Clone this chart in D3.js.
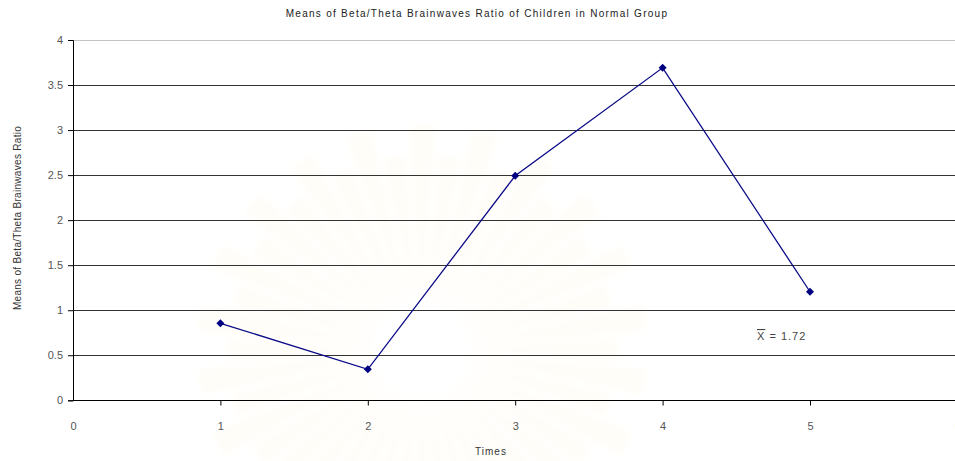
<!DOCTYPE html>
<html>
<head>
<meta charset="utf-8">
<script src="https://cdn.jsdelivr.net/npm/d3@7"></script>
<style>
  html, body { margin: 0; padding: 0; background: #fff; }
  svg { display: block; font-family: "Liberation Sans", Arial, sans-serif; }
</style>
</head>
<body>
<svg id="chart" width="955" height="461"></svg>
<script>
// Session number and mean beta/theta ratio
const times = [1, 2, 3, 4, 5];
const ratios = [0.855, 0.344, 2.493, 3.691, 1.205];
const xTicks = [0, 1, 2, 3, 4, 5, 6];
const yTicks = [0, 0.5, 1, 1.5, 2, 2.5, 3, 3.5, 4];
const meanLabel = "1.72";

const svg = d3.select("#chart");
const W = 955, H = 461;
const plotLeft = 73, plotRight = 957.4, plotTop = 40, plotBottom = 400.3;

const x = d3.scaleLinear().domain([0, 6]).range([plotLeft, plotRight]);
const y = d3.scaleLinear().domain([0, 4]).range([plotBottom, plotTop]);

// Faint sunburst emblem in the page background
const defs = svg.append("defs");
const grad = defs.append("radialGradient").attr("id", "rayFill")
  .attr("gradientUnits", "userSpaceOnUse").attr("cx", 422).attr("cy", 350).attr("r", 230);
grad.append("stop").attr("offset", "0.2").attr("stop-color", "#faf4dc");
grad.append("stop").attr("offset", "0.75").attr("stop-color", "#fcf9ec");
grad.append("stop").attr("offset", "1").attr("stop-color", "#fffdf8");
defs.append("filter").attr("id", "soft").append("feGaussianBlur").attr("stdDeviation", 3);

const emblem = svg.append("g").attr("transform", "translate(422,350)").attr("filter", "url(#soft)");
const nRays = 44;
emblem.selectAll("path")
  .data(d3.range(nRays))
  .join("path")
  .attr("d", i => {
    const a = (i / nRays) * 2 * Math.PI;
    const half = Math.PI / nRays * 0.8;
    const r0 = 48, r1 = (i % 2 === 0) ? 225 : 195;
    const p = (r, t) => [r * Math.sin(t), -r * Math.cos(t)];
    const [x0, y0] = p(r0, a - half * 0.4), [x1, y1] = p(r1, a - half);
    const [x2, y2] = p(r1, a + half), [x3, y3] = p(r0, a + half * 0.4);
    return `M${x0},${y0}L${x1},${y1}L${x2},${y2}L${x3},${y3}Z`;
  })
  .attr("fill", "url(#rayFill)");

// Title
svg.append("text")
  .attr("x", 477).attr("y", 17)
  .attr("text-anchor", "middle")
  .attr("font-size", 10)
  .attr("letter-spacing", 1.28)
  .attr("fill", "#222")
  .text("Means of Beta/Theta Brainwaves Ratio of Children in Normal Group");

// Horizontal gridlines
svg.append("g").selectAll("line")
  .data(yTicks.filter(d => d > 0))
  .join("line")
  .attr("x1", plotLeft).attr("x2", W)
  .attr("y1", d => Math.round(y(d)) + 0.5).attr("y2", d => Math.round(y(d)) + 0.5)
  .attr("stroke", d => d === 4 ? "#c4c4c4" : "#333")
  .attr("stroke-width", 1);

// Y axis
const yAxis = svg.append("g")
  .attr("transform", `translate(${plotLeft},0)`)
  .call(d3.axisLeft(y).tickValues(yTicks).tickSize(5).tickPadding(5).tickFormat(d3.format("")));
yAxis.select(".domain").attr("stroke", "#000");
yAxis.selectAll(".tick line").attr("stroke", "#000");
yAxis.selectAll("text").attr("font-size", 11).attr("fill", "#555").attr("font-family", "Liberation Sans, Arial, sans-serif");

// X axis
const xAxis = svg.append("g")
  .attr("transform", `translate(0,${Math.round(plotBottom) + 0.5})`)
  .call(d3.axisBottom(x).tickValues(xTicks).tickSize(5).tickPadding(17).tickFormat(d3.format("d")));
xAxis.select(".domain").attr("stroke", "#000").attr("d", `M${plotLeft},0H${W}`);
xAxis.selectAll(".tick line").attr("stroke", "#000").attr("opacity", d => (d === 0 ? 0 : 1));
xAxis.selectAll("text").attr("font-size", 11).attr("fill", "#555").attr("font-family", "Liberation Sans, Arial, sans-serif");

// Axis titles
svg.append("text")
  .attr("x", 491).attr("y", 455)
  .attr("text-anchor", "middle")
  .attr("font-size", 10)
  .attr("letter-spacing", 1)
  .attr("fill", "#333")
  .text("Times");

svg.append("text")
  .attr("transform", "translate(21,218) rotate(-90)")
  .attr("text-anchor", "middle")
  .attr("font-size", 10)
  .attr("letter-spacing", 0.3)
  .attr("fill", "#333")
  .text("Means of Beta/Theta Brainwaves Ratio");

// Series line and diamond markers
const data = times.map((t, i) => ({ t, v: ratios[i] }));
svg.append("path")
  .datum(data)
  .attr("fill", "none")
  .attr("stroke", "#0a0a88")
  .attr("stroke-width", 1.3)
  .attr("d", d3.line().x(d => x(d.t)).y(d => y(d.v)));

svg.append("g").selectAll("path")
  .data(data)
  .join("path")
  .attr("transform", d => `translate(${x(d.t)},${y(d.v)})`)
  .attr("d", "M0,-4L4,0L0,4L-4,0Z")
  .attr("fill", "#000080");

// Mean annotation
const mean = svg.append("text")
  .attr("x", 757).attr("y", 340)
  .attr("font-size", 11)
  .attr("letter-spacing", 1)
  .attr("fill", "#444");
mean.append("tspan").attr("text-decoration", "overline").text("X");
mean.append("tspan").text(" =  " + meanLabel);
</script>
</body>
</html>
